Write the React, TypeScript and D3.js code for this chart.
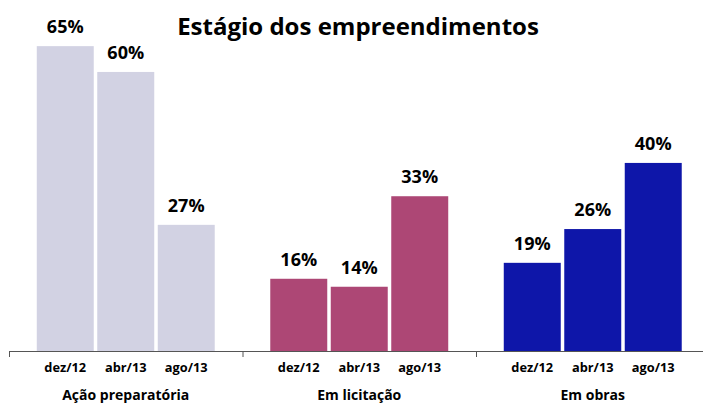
import React from "react";
import * as d3 from "d3";

const groups = ["Ação preparatória", "Em licitação", "Em obras"];
const periods = ["dez/12", "abr/13", "ago/13"];
// bar heights
const acaoPreparatoria = [65, 59.5, 26.9];
const emLicitacao = [15.4, 13.7, 33];
const emObras = [18.8, 26, 40.1];
// printed data labels
const acaoPreparatoriaLabels = ["65%", "60%", "27%"];
const emLicitacaoLabels = ["16%", "14%", "33%"];
const emObrasLabels = ["19%", "26%", "40%"];
const groupColors = ["#D2D2E3", "#AD4775", "#0E16A9"];
const title = "Estágio dos empreendimentos";

const W = 703;
const H = 403;
const FONT = "'Open Sans', Lato, sans-serif";

export default function App() {
  const seriesByGroup = [acaoPreparatoria, emLicitacao, emObras];
  const labelsByGroup = [acaoPreparatoriaLabels, emLicitacaoLabels, emObrasLabels];
  const baseY = 351;
  const x0 = d3.scaleBand<string>().domain(groups).range([9, 709.5]).padding(0);
  const x1 = d3
    .scaleBand<string>()
    .domain(periods)
    .range([0, x0.bandwidth()])
    .paddingInner(0.058)
    .paddingOuter(0.459);
  const y = d3.scaleLinear().domain([0, 70]).range([baseY, baseY - 70 * 4.69]);

  return (
    <svg
      width={W}
      height={H}
      style={{ position: "absolute", left: 0, top: 0, background: "#fff" }}
      fontFamily={FONT}
    >
      <text x={358} y={35} textAnchor="middle" fontSize={24} fontWeight={700} fill="#000">
        {title}
      </text>
      {groups.map((g, gi) => {
        const gx = x0(g)!;
        return (
          <g key={g} transform={`translate(${gx},0)`}>
            {periods.map((p, pi) => {
              const v = seriesByGroup[gi][pi];
              const bx = x1(p)!;
              return (
                <g key={p}>
                  <rect
                    x={bx}
                    y={y(v)}
                    width={x1.bandwidth()}
                    height={baseY - y(v)}
                    fill={groupColors[gi]}
                  />
                  <text
                    x={bx + x1.bandwidth() / 2}
                    y={y(v) - 13}
                    textAnchor="middle"
                    fontSize={18}
                    fontWeight={700}
                    fill="#000"
                  >
                    {labelsByGroup[gi][pi]}
                  </text>
                  <text
                    x={bx + x1.bandwidth() / 2}
                    y={372}
                    textAnchor="middle"
                    fontSize={12.8}
                    fontWeight={700}
                    fill="#000"
                  >
                    {p}
                  </text>
                </g>
              );
            })}
            <text
              x={x0.bandwidth() / 2}
              y={400}
              textAnchor="middle"
              fontSize={14}
              fontWeight={700}
              fill="#000"
            >
              {g}
            </text>
          </g>
        );
      })}
      <line x1={9} x2={709} y1={baseY + 0.5} y2={baseY + 0.5} stroke="#555" strokeWidth={1} />
      {groups.map((g) => (
        <line
          key={"t" + g}
          x1={x0(g)! + 0.5}
          x2={x0(g)! + 0.5}
          y1={baseY}
          y2={baseY + 6}
          stroke="#555"
          strokeWidth={1}
        />
      ))}
      <line x1={709} x2={709} y1={baseY} y2={baseY + 6} stroke="#555" />
    </svg>
  );
}
